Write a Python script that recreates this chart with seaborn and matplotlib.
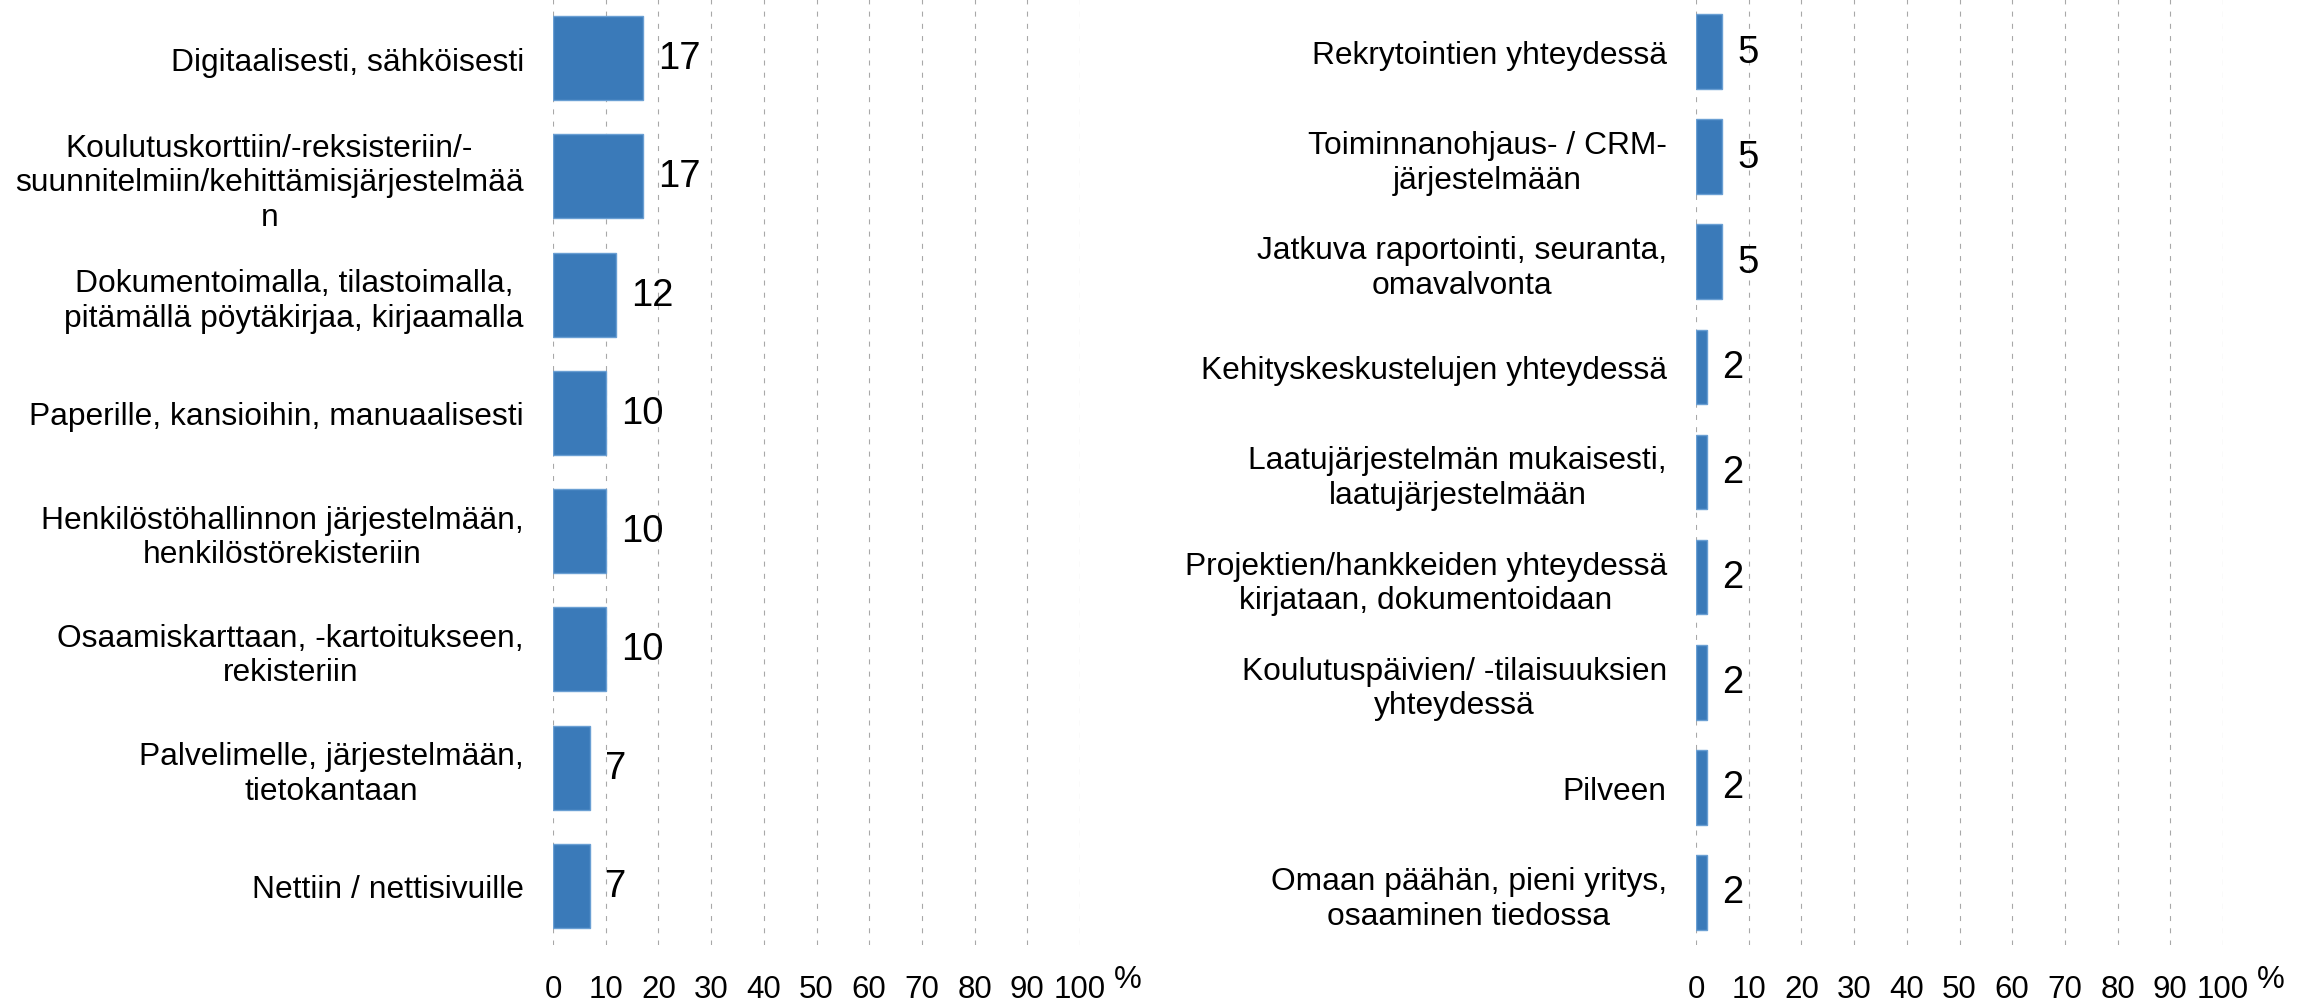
import matplotlib
matplotlib.use("Agg")
import matplotlib.pyplot as plt
import seaborn as sns
import pandas as pd

left_categories = [
    "Digitaalisesti, sähköisesti",
    "Koulutuskorttiin/-reksisteriin/-\nsuunnitelmiin/kehittämisjärjestelmää\nn",
    "Dokumentoimalla, tilastoimalla,\npitämällä pöytäkirjaa, kirjaamalla",
    "Paperille, kansioihin, manuaalisesti",
    "Henkilöstöhallinnon järjestelmään,\nhenkilöstörekisteriin",
    "Osaamiskarttaan, -kartoitukseen,\nrekisteriin",
    "Palvelimelle, järjestelmään,\ntietokantaan",
    "Nettiin / nettisivuille",
]
left_values = [17, 17, 12, 10, 10, 10, 7, 7]

right_categories = [
    "Rekrytointien yhteydessä",
    "Toiminnanohjaus- / CRM-\njärjestelmään",
    "Jatkuva raportointi, seuranta,\nomavalvonta",
    "Kehityskeskustelujen yhteydessä",
    "Laatujärjestelmän mukaisesti,\nlaatujärjestelmään",
    "Projektien/hankkeiden yhteydessä\nkirjataan, dokumentoidaan",
    "Koulutuspäivien/ -tilaisuuksien\nyhteydessä",
    "Pilveen",
    "Omaan päähän, pieni yritys,\nosaaminen tiedossa",
]
right_values = [5, 5, 5, 2, 2, 2, 2, 2, 2]

x_ticks = [0, 10, 20, 30, 40, 50, 60, 70, 80, 90, 100]
unit_label = "%"

sns.set_style("white")
plt.rcParams["font.family"] = ["Liberation Sans", "DejaVu Sans"]
plt.rcParams["text.color"] = "black"
plt.rcParams["xtick.color"] = "black"
plt.rcParams["ytick.color"] = "black"
plt.rcParams["xtick.labelcolor"] = "black"
plt.rcParams["ytick.labelcolor"] = "black"

BAR = "#3A7AB9"
EDGE = "#6A9FD3"
GRID = "#A8A8A8"

fig = plt.figure(figsize=(23.13, 10.03), dpi=100)
ax_l = fig.add_axes([553 / 2313, 57 / 1003, 527 / 2313, 946 / 1003])
ax_r = fig.add_axes([1696 / 2313, 57 / 1003, 527 / 2313, 946 / 1003])


def draw(ax, cats, vals, label_pad):
    df = pd.DataFrame({"cat": cats, "val": vals})
    sns.barplot(data=df, x="val", y="cat", orient="h", color=BAR,
                saturation=1, width=0.71, edgecolor=EDGE, linewidth=1,
                ax=ax, zorder=3)
    ax.set_xlim(0, 100)
    ax.set_ylim(len(cats) - 0.5, -0.5)
    ax.set_xticks(x_ticks)
    ax.set_xticklabels([str(t) for t in x_ticks], fontsize=22.5, color="black")
    ax.set_xlabel("")
    ax.set_ylabel("")
    ax.tick_params(axis="x", length=0, pad=21, labelcolor="black")
    ax.tick_params(axis="y", length=0, pad=label_pad, labelsize=22.9,
                   labelcolor="black")
    for t in ax.get_yticklabels():
        t.set_multialignment("center")
    ax.grid(axis="x", color=GRID, linestyle=(0, (4.5, 6.5)), linewidth=0.8,
            zorder=0)
    ax.grid(axis="y", visible=False)
    for s in ax.spines.values():
        s.set_visible(False)
    for c in ax.containers:
        ax.bar_label(c, labels=[f"{v:g}" for v in vals], padding=11,
                     fontsize=27.5, color="black")
    ax.text(1.091, -0.036, unit_label, transform=ax.transAxes, ha="center",
            va="center", fontsize=22.5, color="black")


draw(ax_l, left_categories, left_values, 21)
draw(ax_r, right_categories, right_values, 21)

fig.savefig("out.png", dpi=100)
